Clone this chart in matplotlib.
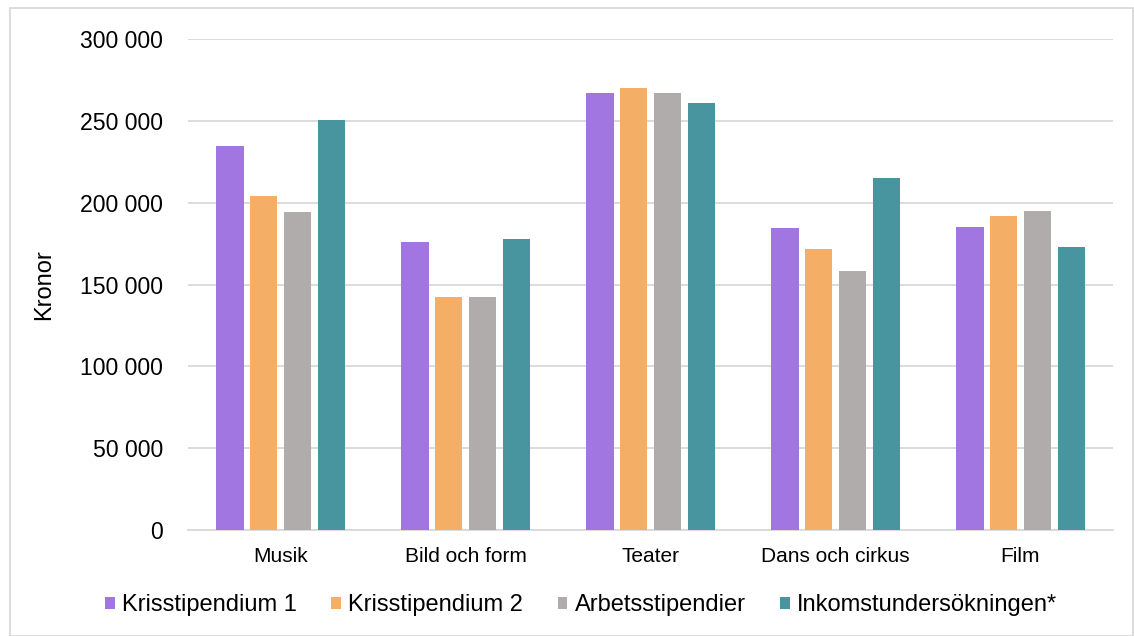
import matplotlib.pyplot as plt
import matplotlib.patches as mpatches
import numpy as np

plt.rcParams['font.family'] = ['Liberation Sans', 'DejaVu Sans']

categories = ['Musik', 'Bild och form', 'Teater', 'Dans och cirkus', 'Film']
series_names = ['Krisstipendium 1', 'Krisstipendium 2', 'Arbetsstipendier', 'Inkomstundersökningen*']
kris1 = [234500, 175700, 266900, 184800, 185200]
kris2 = [204200, 142500, 270000, 171800, 191900]
arbets = [194200, 142500, 266900, 158000, 194800]
inkomst = [250300, 178100, 260800, 215300, 173000]
colors = ['#A276E0', '#F4AE66', '#AFACAB', '#4895A0']
yticks = [0, 50000, 100000, 150000, 200000, 250000, 300000]

fig = plt.figure(figsize=(11.34, 6.36), dpi=100)
ax = fig.add_axes([188 / 1134, 1 - 530 / 636, 925 / 1134, 491 / 636])

x = np.arange(len(categories))
width = 0.146
step = 0.182
for i, (vals, name) in enumerate(zip([kris1, kris2, arbets, inkomst], series_names)):
    ax.bar(x + (i - 1.5) * step, vals, width, color=colors[i], label=name, zorder=3)

ax.set_xlim(-0.5, len(categories) - 0.5)
ax.set_ylim(0, 300000)
ax.set_yticks(yticks)
ax.set_yticklabels([f'{v:,}'.replace(',', ' ') for v in yticks], fontsize=16.6)
ax.set_xticks(x)
ax.set_xticklabels(categories, fontsize=15)
ax.tick_params(axis='y', length=0, pad=18)
ax.tick_params(axis='x', length=0, pad=12)
ax.grid(axis='y', color='#D9D9D9', linewidth=1.3, zorder=0)
for s in ['top', 'right', 'left']:
    ax.spines[s].set_visible(False)
ax.spines['bottom'].set_color('#D9D9D9')
ax.spines['bottom'].set_linewidth(1.3)
ax.set_ylabel('Kronor', fontsize=17, labelpad=18)

ax.legend(loc='center', bbox_to_anchor=(0.425, -0.153), ncol=4, frameon=False,
          fontsize=17, handlelength=0.42, handleheight=0.42, handletextpad=0.3,
          columnspacing=1.45, borderaxespad=0, borderpad=0)

fig.patches.append(mpatches.Rectangle((10 / 1134, 0), 1 - 10 / 1134 - 1 / 1134, 1 - 8 / 636,
                                      transform=fig.transFigure, fill=False,
                                      edgecolor='#D9D9D9', linewidth=1.3))

fig.savefig('out.png', dpi=100)
